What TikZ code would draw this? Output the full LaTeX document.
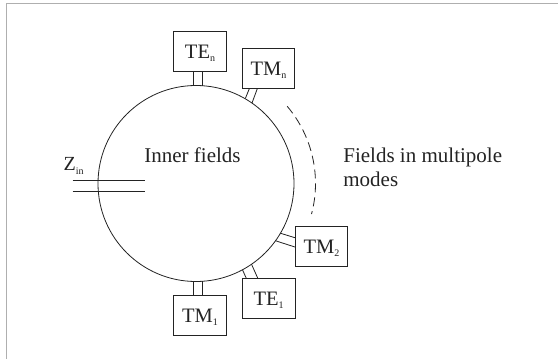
\documentclass[tikz,border=0pt]{standalone}
\usepackage{fontspec}
\setmainfont{Liberation Serif}
\usetikzlibrary{calc}
\definecolor{framegray}{RGB}{175,175,175}
\definecolor{ink}{RGB}{35,35,35}
\newcommand{\lowsub}[2]{{\fontsize{10pt}{10pt}\selectfont\raisebox{-#1}{#2}}}
\begin{document}
\begin{tikzpicture}[x=1pt,y=-1pt,line width=0.8pt,draw=ink,text=ink,
  modebox/.style={draw=ink,fill=white,minimum width=52.4pt,minimum height=40pt,inner sep=0pt,
    font=\fontsize{20.5pt}{24pt}\selectfont,text height=14.4pt,text depth=0pt},
  bigtext/.style={font=\fontsize{21pt}{23.7pt}\selectfont,inner sep=0pt,anchor=base west},
  stubline/.style={draw=ink,line width=0.8pt},
  frameline/.style={draw=framegray,line width=1pt},
  fieldarc/.style={draw=ink,line width=0.8pt,dash pattern=on 9pt off 5pt}]
\useasboundingbox (0,0) rectangle (558,359);
% frame
\draw[frameline] (6,359) -- (6,3.3) -- (558,3.3);
% main sphere
\node[circle,draw=ink,minimum size=196pt,inner sep=0pt] (circ) at (196,183.5) {};
% mode boxes
\node[modebox] (ten) at (200,51) {TE\lowsub{3pt}{n}};
\node[modebox] (tmn) at (268.5,68.3) {TM\lowsub{3pt}{n}};
\node[modebox] (tm2) at (321.5,246.3) {TM\lowsub{3pt}{2}};
\node[modebox] (te1) at (268.7,298.7) {TE\lowsub{3pt}{1}};
\node[modebox] (tm1) at (200,315.7) {TM\lowsub{3pt}{1}};
% stub coordinates on the sphere
\coordinate (tenA) at (193.3,85.5);
\coordinate (tenB) at (202.7,85.7);
\coordinate (tm1A) at (193.3,281.5);
\coordinate (tm1B) at (202.7,281.3);
\coordinate (tmnA) at (245.4,98.4);
\coordinate (tmnB) at (252,103);
\coordinate (te1A) at (242.5,269.8);
\coordinate (te1B) at (251.5,264.2);
\coordinate (tm2A) at (280,233.1);
\coordinate (tm2B) at (275.55,240.77);
% stubs
\draw[stubline] (tenA) -- (ten.south -| tenA);
\draw[stubline] (tenB) -- (ten.south -| tenB);
\draw[stubline] (tm1A) -- (tm1.north -| tm1A);
\draw[stubline] (tm1B) -- (tm1.north -| tm1B);
\draw[stubline] (tmnA) -- (tmn.south -| 249.3,0);
\draw[stubline] (tmnB) -- (tmn.south -| 257.3,0);
\draw[stubline] (te1A) -- (te1.north -| 246.3,0);
\draw[stubline] (te1B) -- (te1.north -| 257.8,0);
\draw[stubline] (tm2A) -- (tm2.west |- 0,237.7);
\draw[stubline] (tm2B) -- (tm2.west |- 0,247);
% input line
\coordinate (zinA) at (72.7,180.7);
\coordinate (zinB) at (145,180.7);
\coordinate (zinC) at (72.7,191.3);
\coordinate (zinD) at (145,191.3);
\draw[stubline] (zinA) -- (zinB);
\draw[stubline] (zinC) -- (zinD);
% dashed arc
\draw[fieldarc] (circ.center) ++(40.3:119.5pt) arc[start angle=40.3,end angle=-14.8,radius=119.5pt];
% texts
\node[bigtext] (inner) at (144,162.3) {Inner fields};
\node[bigtext] (fields1) at (343,162.3) {Fields in multipole};
\node[bigtext] (fields2) at (343,186) {modes};
\node[bigtext,font=\fontsize{20pt}{24pt}\selectfont] (zin) at (63.3,170) {Z\lowsub{4pt}{in}};
\end{tikzpicture}
\end{document}
